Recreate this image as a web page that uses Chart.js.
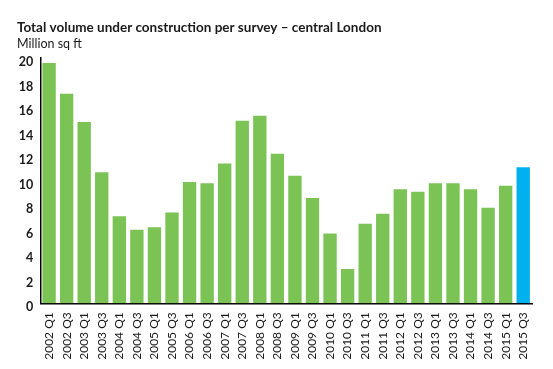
<!DOCTYPE html>
<html>
<head>
<meta charset="utf-8">
<script src="https://cdn.jsdelivr.net/npm/chart.js@4.4.1/dist/chart.umd.min.js"></script>
<style>
  html, body { margin: 0; padding: 0; background: #fff; }
  #wrap { width: 553px; height: 369px; position: relative; }
</style>
</head>
<body>
<div id="wrap"><canvas id="chart"></canvas></div>
<script>
// categories and values
const periods = [
  '2002 Q1', '2002 Q3', '2003 Q1', '2003 Q3', '2004 Q1', '2004 Q3', '2005 Q1',
  '2005 Q3', '2006 Q1', '2006 Q3', '2007 Q1', '2007 Q3', '2008 Q1', '2008 Q3',
  '2009 Q1', '2009 Q3', '2010 Q1', '2010 Q3', '2011 Q1', '2011 Q3', '2012 Q1',
  '2012 Q3', '2013 Q1', '2013 Q3', '2014 Q1', '2014 Q3', '2015 Q1', '2015 Q3'
];
const volume = [
  19.6, 17.1, 14.8, 10.7, 7.1, 6.0, 6.2,
  7.4, 9.9, 9.8, 11.4, 14.9, 15.3, 12.2,
  10.4, 8.6, 5.7, 2.8, 6.5, 7.3, 9.3,
  9.1, 9.8, 9.8, 9.3, 7.8, 9.6, 11.1
];
const yTicks = [0, 2, 4, 6, 8, 10, 12, 14, 16, 18, 20];

const green = '#7ac354';
const blue = '#00b0ef';
const barColors = volume.map((v, i) => i === volume.length - 1 ? blue : green);

new Chart(document.getElementById('chart'), {
  type: 'bar',
  data: {
    labels: periods,
    datasets: [{
      data: volume,
      backgroundColor: barColors,
      barPercentage: 0.76,
      categoryPercentage: 1
    }]
  },
  options: {
    responsive: true,
    maintainAspectRatio: false,
    animation: false,
    layout: { padding: { left: 17, right: 21, top: 20, bottom: 10 } },
    plugins: {
      legend: { display: false },
      tooltip: { enabled: false },
      title: {
        display: true,
        text: 'Total volume under construction per survey – central London',
        align: 'start',
        color: '#1a1a1a',
        font: { family: 'Lato', size: 13.5, weight: 'bold' },
        padding: { top: 0, bottom: 0 }
      },
      subtitle: {
        display: true,
        text: 'Million sq ft',
        align: 'start',
        color: '#1a1a1a',
        font: { family: 'Lato', size: 12.5 },
        padding: { top: 0, bottom: 7 }
      }
    },
    scales: {
      x: {
        afterFit: s => { s.height = 55.7; },
        grid: { display: false, drawTicks: false },
        border: { display: true, color: '#000', width: 1.5 },
        ticks: {
          color: '#1a1a1a',
          font: { family: 'Lato', size: 12 },
          minRotation: 90,
          maxRotation: 90,
          autoSkip: false,
          padding: 9
        }
      },
      y: {
        min: 0,
        max: 20,
        afterBuildTicks: s => { s.ticks = yTicks.map(v => ({ value: v })); },
        afterFit: s => { s.width = 23.3; },
        grid: { display: false, drawTicks: false },
        border: { display: true, color: '#000', width: 1.5 },
        ticks: {
          color: '#1a1a1a',
          font: { family: 'Lato', size: 12.5, weight: 'bold' },
          padding: 7,
          labelOffset: 4
        }
      }
    }
  }
});
</script>
</body>
</html>
